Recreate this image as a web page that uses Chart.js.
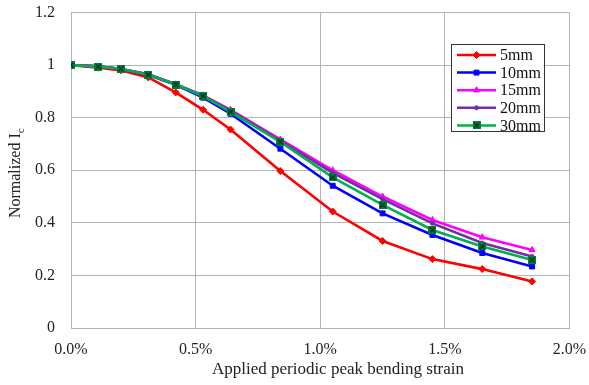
<!DOCTYPE html>
<html>
<head>
<meta charset="utf-8">
<script src="https://cdn.jsdelivr.net/npm/chart.js@4/dist/chart.umd.min.js"></script>
<style>
  html, body { margin: 0; padding: 0; background: #fff; }
  #wrap { width: 589px; height: 385px; }
</style>
</head>
<body>
<div id="wrap"><canvas id="myChart" width="589" height="385"></canvas></div>
<script>
// Applied strain (%) at each measurement
const strain = [0, 0.11, 0.2, 0.31, 0.42, 0.53, 0.64, 0.84, 1.05, 1.25, 1.45, 1.65, 1.85];

// Normalized Ic per bending diameter
const mm5  = [1.0, 0.99, 0.98, 0.953, 0.896, 0.83, 0.755, 0.597, 0.443, 0.331, 0.262, 0.224, 0.177];
const mm10 = [1.0, 0.995, 0.985, 0.962, 0.925, 0.876, 0.815, 0.682, 0.541, 0.436, 0.354, 0.285, 0.234];
const mm15 = [1.0, 0.995, 0.985, 0.965, 0.927, 0.885, 0.83, 0.717, 0.6, 0.5, 0.411, 0.345, 0.297];
const mm20 = [1.0, 0.995, 0.985, 0.965, 0.927, 0.884, 0.828, 0.712, 0.59, 0.49, 0.398, 0.323, 0.272];
const mm30 = [1.0, 0.994, 0.986, 0.963, 0.926, 0.882, 0.822, 0.708, 0.573, 0.468, 0.373, 0.31, 0.259];

const seriesLabels = ["5mm", "10mm", "15mm", "20mm", "30mm"];
const xTicks = [0, 0.5, 1.0, 1.5, 2.0];
const yTicks = [0, 0.2, 0.4, 0.6, 0.8, 1, 1.2];
const xTitle = "Applied periodic peak bending strain";

const FONT = "'Liberation Serif', 'Times New Roman', serif";

// green square with a dark x, like the spreadsheet marker
function xMarker() {
  const c = document.createElement("canvas");
  c.width = 8; c.height = 8;
  const g = c.getContext("2d");
  g.fillStyle = "#008040";
  g.fillRect(0, 0, 8, 8);
  g.strokeStyle = "#0a2a10";
  g.lineWidth = 1.3;
  g.beginPath();
  g.moveTo(1.5, 1.5); g.lineTo(6.5, 6.5);
  g.moveTo(6.5, 1.5); g.lineTo(1.5, 6.5);
  g.stroke();
  return c;
}

const toPoints = (vals) => vals.map((v, i) => ({ x: strain[i], y: v }));

const styles = [
  { color: "#ff0000", pointStyle: "rectRot", radius: 3.5 },
  { color: "#0000ff", pointStyle: "rect", radius: 3.5 },
  { color: "#ff00ff", pointStyle: "triangle", radius: 3.5 },
  { color: "#7030a0", pointStyle: "circle", radius: 2 },
  { color: "#00b050", pointStyle: xMarker(), radius: 4 },
];

const seriesData = [mm5, mm10, mm15, mm20, mm30];

const datasets = seriesData.map((vals, i) => ({
  label: seriesLabels[i],
  data: toPoints(vals),
  borderColor: styles[i].color,
  backgroundColor: styles[i].color,
  borderWidth: 2.6,
  pointStyle: styles[i].pointStyle,
  pointRadius: styles[i].radius,
  pointBorderWidth: 1,
  tension: 0,
  order: seriesLabels.length - i, // last series on top
}));

// axis titles (y one has a subscript c, x one sits a bit right of centre)
const titlesPlugin = {
  id: "axisTitles",
  afterDraw(chart) {
    const ctx = chart.ctx;
    const ca = chart.chartArea;
    ctx.save();
    ctx.fillStyle = "#222";
    ctx.textBaseline = "middle";

    ctx.font = "17px " + FONT;
    ctx.textAlign = "center";
    ctx.fillText(xTitle, 338, 370);

    ctx.translate(16, (ca.top + ca.bottom) / 2 + 3);
    ctx.rotate(-Math.PI / 2);
    ctx.font = "16px " + FONT;
    const main = "Normalized I";
    const w = ctx.measureText(main).width;
    ctx.font = "11px " + FONT;
    const wc = ctx.measureText("c").width;
    const start = -(w + wc) / 2;
    ctx.font = "16px " + FONT;
    ctx.textAlign = "left";
    ctx.fillText(main, start, 0);
    ctx.font = "11px " + FONT;
    ctx.fillText("c", start + w, 5);
    ctx.restore();
  },
};

// boxed legend inside the plot, line + marker per series
const legendPlugin = {
  id: "boxLegend",
  afterDraw(chart) {
    const ctx = chart.ctx;
    const left = 451.5, top = 44.5, right = 544.5, bottom = 131.5;
    ctx.save();
    ctx.fillStyle = "#fff";
    ctx.fillRect(left, top, right - left, bottom - top);
    ctx.strokeStyle = "#333";
    ctx.lineWidth = 1;
    ctx.strokeRect(left, top, right - left, bottom - top);
    const rowH = 17.6;
    chart.data.datasets.forEach((ds, i) => {
      const y = top + 10.5 + i * rowH;
      ctx.strokeStyle = ds.borderColor;
      ctx.lineWidth = 2.5;
      ctx.beginPath();
      ctx.moveTo(457, y);
      ctx.lineTo(496, y);
      ctx.stroke();
      ctx.fillStyle = ds.backgroundColor;
      ctx.strokeStyle = ds.borderColor;
      ctx.lineWidth = 1;
      if (Chart.helpers && Chart.helpers.drawPoint) {
        Chart.helpers.drawPoint(ctx, {
          pointStyle: ds.pointStyle,
          radius: ds.pointRadius,
          rotation: 0,
          borderWidth: 1,
        }, 476.5, y);
      }
      ctx.fillStyle = "#111";
      ctx.font = "16px " + FONT;
      ctx.textBaseline = "middle";
      ctx.textAlign = "left";
      ctx.fillText(ds.label, 500, y + 1);
    });
    ctx.restore();
  },
};

const config = {
  type: "line",
  data: { datasets: datasets },
  options: {
    responsive: false,
    animation: false,
    layout: { padding: 0 },
    plugins: {
      legend: { display: false },
      tooltip: { enabled: false },
    },
    scales: {
      x: {
        type: "linear",
        min: 0,
        max: 2.0,
        afterBuildTicks(scale) {
          scale.ticks = xTicks.map((v) => ({ value: v }));
        },
        afterFit(scale) {
          scale.height = 57;
          scale.paddingLeft = 0;
          scale.paddingRight = 19.5;
        },
        grid: { color: "#b4b4b4", lineWidth: 1, drawTicks: false },
        border: { color: "#b4b4b4", width: 1 },
        ticks: {
          padding: 12,
          color: "#222",
          font: { family: FONT, size: 16 },
          callback: (v) => v.toFixed(1) + "%",
        },
      },
      y: {
        min: 0,
        max: 1.2,
        afterBuildTicks(scale) {
          scale.ticks = yTicks.map((v) => ({ value: v }));
        },
        afterFit(scale) {
          scale.width = 71;
          scale.paddingTop = 12.5;
          scale.paddingBottom = 0;
        },
        grid: { color: "#b4b4b4", lineWidth: 1, drawTicks: false },
        border: { color: "#b4b4b4", width: 1 },
        ticks: {
          padding: 16,
          color: "#222",
          font: { family: FONT, size: 16 },
          callback: (v) => String(Math.round(v * 10) / 10),
        },
      },
    },
  },
  plugins: [titlesPlugin, legendPlugin],
};

const myChart = new Chart(document.getElementById("myChart"), config);
</script>
</body>
</html>
